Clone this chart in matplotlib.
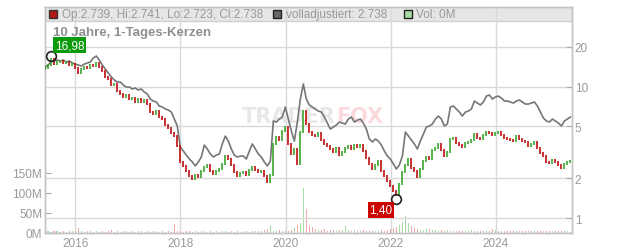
import numpy as np
import pandas as pd
import matplotlib
matplotlib.use("Agg")
import matplotlib.pyplot as plt
import matplotlib.dates as mdates

plt.rcParams["font.family"] = ["Liberation Sans", "DejaVu Sans"]

# roughly every 3 weeks, mid 2015 .. mid 2025
dates = pd.date_range("2015-06-07", "2025-06-01", periods=176)

close = [13.84, 14.58, 16.20, 14.84, 15.37, 15.64, 15.10, 15.37, 14.58, 14.84,
         13.84, 12.68, 13.60, 14.08, 13.84, 14.58, 14.33, 15.10, 14.08, 13.13,
         11.82, 11.41, 10.27, 10.46, 9.25, 8.77, 8.33, 8.62, 8.04, 8.18,
         7.63, 8.04, 7.63, 7.90, 7.36, 6.40, 6.18, 6.51, 5.87, 5.66,
         5.10, 4.84, 4.43, 4.20, 3.53, 2.67, 2.49, 2.28, 2.09, 1.98,
         2.12, 2.05, 2.28, 2.44, 2.53, 2.28, 2.16, 2.28, 2.36, 2.58,
         2.96, 2.81, 2.53, 2.24, 2.09, 2.20, 2.24, 2.12, 2.32, 2.44,
         2.32, 2.24, 2.28, 2.09, 1.88, 2.12, 3.66, 4.13, 3.92, 4.59,
         4.92, 3.66, 3.07, 3.35, 2.58, 4.51, 6.51, 5.19, 4.51, 4.28,
         4.20, 4.43, 3.92, 3.66, 3.53, 3.35, 3.18, 3.41, 3.01, 3.18,
         3.41, 3.53, 3.35, 3.59, 3.47, 3.59, 3.23, 2.86, 2.58, 2.36,
         2.53, 2.71, 2.28, 2.09, 1.91, 1.75, 1.61, 1.50, 1.81, 2.24,
         2.53, 2.81, 2.40, 2.28, 2.05, 2.36, 2.71, 2.91, 2.81, 3.29,
         3.41, 3.66, 3.29, 2.96, 3.18, 3.99, 4.06, 3.72, 3.59, 3.47,
         3.72, 3.79, 3.92, 4.35, 4.06, 3.99, 4.28, 4.51, 4.43, 4.28,
         4.43, 4.51, 4.28, 4.06, 3.99, 3.92, 3.85, 4.20, 3.99, 3.85,
         3.79, 3.53, 3.66, 3.79, 3.41, 3.12, 2.96, 2.67, 2.62, 2.76,
         2.67, 2.53, 2.40, 2.58, 2.67, 2.71]

adjusted = [14.08, 14.58, 15.64, 15.64, 15.92, 15.64, 15.92, 15.37, 15.64, 15.10,
            14.84, 14.58, 14.33, 14.84, 15.10, 15.37, 16.48, 17.07, 15.92, 14.58,
            13.60, 12.68, 11.82, 11.22, 10.83, 10.83, 10.27, 9.92, 9.92, 9.58,
            9.75, 9.41, 9.58, 9.09, 8.77, 8.04, 7.76, 7.63, 7.11, 6.99,
            6.75, 6.63, 6.40, 5.66, 5.01, 3.47, 3.23, 3.01, 2.81, 2.67,
            2.49, 2.67, 2.91, 3.59, 3.35, 3.07, 2.91, 3.01, 3.07, 3.66,
            4.20, 3.85, 3.35, 3.01, 2.91, 2.96, 2.96, 2.81, 3.23, 3.66,
            3.35, 3.07, 2.91, 2.67, 2.49, 2.71, 5.47, 5.37, 5.66, 5.87,
            6.99, 5.66, 4.59, 3.85, 5.37, 8.04, 10.46, 8.04, 7.24, 6.99,
            6.75, 6.51, 6.40, 5.87, 5.28, 4.75, 4.92, 5.10, 5.37, 5.28,
            5.19, 5.66, 5.87, 5.37, 5.56, 5.66, 5.28, 4.75, 3.99, 3.79,
            3.99, 3.85, 3.59, 3.23, 2.96, 2.81, 2.58, 2.36, 2.53, 2.96,
            4.51, 4.20, 3.92, 3.66, 3.35, 3.85, 4.35, 4.92, 5.01, 5.19,
            5.66, 5.97, 5.66, 5.01, 5.19, 6.99, 7.11, 6.75, 6.40, 5.97,
            6.40, 6.51, 6.75, 7.76, 7.49, 7.24, 7.63, 8.47, 8.62, 8.04,
            8.33, 8.47, 8.18, 7.76, 7.76, 7.63, 7.49, 7.76, 7.90, 7.63,
            7.36, 7.36, 7.49, 7.63, 7.11, 6.40, 5.76, 5.47, 5.37, 5.66,
            5.47, 5.28, 5.01, 5.47, 5.66, 5.87]

# volume in millions
volume = [5, 4, 3, 4, 5, 3, 4, 3, 4, 5,
          4, 12, 4, 3, 4, 5, 3, 4, 3, 4,
          3, 4, 7, 3, 4, 3, 5, 4, 3, 4,
          3, 5, 4, 3, 4, 3, 4, 6, 3, 4,
          3, 4, 3, 22, 6, 4, 3, 5, 4, 3,
          4, 3, 4, 5, 3, 4, 3, 4, 3, 4,
          5, 3, 4, 3, 4, 3, 4, 5, 3, 4,
          5, 4, 6, 8, 10, 20, 6, 5, 7, 6,
          5, 6, 8, 12, 20, 25, 112, 60, 18, 14,
          10, 8, 7, 9, 6, 8, 7, 6, 8, 7,
          17, 7, 6, 8, 5, 6, 7, 5, 6, 5,
          6, 5, 7, 6, 8, 10, 12, 15, 20, 28,
          43, 25, 18, 12, 9, 8, 7, 10, 9, 8,
          7, 6, 8, 6, 7, 5, 6, 5, 6, 5,
          6, 5, 7, 5, 6, 5, 6, 5, 6, 10,
          8, 6, 5, 6, 5, 4, 5, 4, 5, 4,
          5, 4, 6, 4, 5, 4, 5, 4, 4, 5,
          4, 5, 4, 5, 4, 3]

first_open = 13.60
hi_label = "16,98"
hi_value = 16.98
lo_label = "1,40"
lo_value = 1.40
header = "Op:2.739, Hi:2.741, Lo:2.723, Cl:2.738"
adj_header = "volladjustiert: 2.738"
vol_header = "Vol: 0M"
title = "10 Jahre, 1-Tages-Kerzen"

close = np.array(close)
opens = np.concatenate([[first_open], close[:-1]])
up = close >= opens

RED = "#c00d0d"
GREEN = "#3aa52c"
GRID = "#d9d9d9"
TXT = "#9a9a9a"

W, H = 632, 253
fig = plt.figure(figsize=(W / 100, H / 100), dpi=100)
L, R, T, B = 45, 572, 8, 234
ax_v = fig.add_axes([L / W, (H - B) / H, (R - L) / W, (B - T) / H])
ax_p = ax_v.twinx()

# volume (left axis)
vol_colors = np.where(up, "#a9dca4", "#f2a5a8")
ax_v.bar(dates, volume, width=11, color=vol_colors, linewidth=0, zorder=2)
ax_v.set_ylim(0, 565)
ax_v.set_yticks([0, 50, 100, 150])
ax_v.set_yticklabels(["0M", "50M", "100M", "150M"])
ax_v.set_axisbelow(True)
ax_v.grid(axis="x", color=GRID, linewidth=1)

# header band
ax_v.add_patch(plt.Rectangle((0, (B - 22) / (B - T)), 1, 1 - (B - 22) / (B - T),
                             transform=ax_v.transAxes, facecolor="#e6e6e6",
                             edgecolor="none", zorder=0.1))
ax_v.plot([0, 1], [(B - 22) / (B - T)] * 2, transform=ax_v.transAxes,
          color="#d0d0d0", lw=1, zorder=0.3)

# watermark
ax_v.text((336 - L) / (R - L), (B - 117) / (B - T), "TRADER", transform=ax_v.transAxes,
          ha="right", va="center", fontsize=15, fontweight="bold",
          family="DejaVu Sans", color="#e8e8e8", zorder=0.2)
ax_v.text((336 - L) / (R - L), (B - 117) / (B - T), "FOX", transform=ax_v.transAxes,
          ha="left", va="center", fontsize=15, fontweight="bold",
          family="DejaVu Sans", color="#fbdadd", zorder=0.2)

# price (right axis, log)
ax_p.set_yscale("log")
ax_p.set_ylim(0.769, 40.3)
ax_p.set_yticks([1, 2, 5, 10, 20])
ax_p.set_yticklabels(["1", "2", "5", "10", "20"])
ax_p.yaxis.set_minor_locator(matplotlib.ticker.NullLocator())
ax_p.grid(axis="y", color=GRID, linewidth=1, zorder=0.5)
ax_p.set_axisbelow(True)

ax_p.plot(dates, adjusted, color="#767676", lw=1.2, zorder=3)
lo = np.minimum(opens, close)
hi = np.maximum(opens, close)
ax_p.vlines(dates, lo * 0.985, hi * 1.015, colors=np.where(up, GREEN, RED),
            linewidth=1.2, zorder=4)

# high / low markers
i_hi = int(np.argmax(close))
i_lo = int(np.argmin(close))
ax_p.plot(dates[i_hi], hi_value, "o", ms=7, mfc="none", mec="#222222", mew=1.2, zorder=6)
ax_p.plot(dates[i_lo], lo_value, "o", ms=7, mfc="none", mec="#222222", mew=1.2, zorder=6)
ax_p.annotate(hi_label, (dates[i_hi], hi_value), xytext=(13, 8), textcoords="offset points",
              ha="center", va="center", color="white", fontsize=8.5, zorder=7,
              bbox=dict(boxstyle="square,pad=0.15", fc="#0a9a0a", ec="none"))
ax_p.annotate(lo_label, (dates[i_lo], lo_value), xytext=(-11, -8), textcoords="offset points",
              ha="center", va="center", color="white", fontsize=8.5, zorder=7,
              bbox=dict(boxstyle="square,pad=0.15", fc="#cc0000", ec="none"))

# x axis
ax_v.set_xlim(pd.Timestamp("2015-06-05"), pd.Timestamp("2025-06-12"))
ax_v.xaxis.set_major_locator(mdates.YearLocator(2))
ax_v.xaxis.set_major_formatter(mdates.DateFormatter("%Y"))

for ax in (ax_v, ax_p):
    for s in ax.spines.values():
        s.set_color("#c4c4c4")
        s.set_linewidth(1)
ax_v.tick_params(axis="x", length=0, colors=TXT, labelsize=8.5, pad=3)
ax_v.tick_params(axis="y", direction="in", length=4, color="#aaaaaa", labelcolor=TXT,
                 labelsize=8.5, pad=2)
ax_p.tick_params(axis="y", direction="in", length=4, color="#aaaaaa", labelcolor=TXT,
                 labelsize=8.5, pad=2)

# header texts
def px(x, y):
    return (x - L) / (R - L), (B - y) / (B - T)

for sx, fc, ec in [(53, "#b51515", "#333333"), (277, "#666666", "#222222"), (408, "#a9dca4", "#222222")]:
    ax_p.scatter(*px(sx, 15), transform=ax_p.transAxes, marker="s", s=30,
                 facecolor=fc, edgecolor=ec, linewidth=1, zorder=8, clip_on=False)
ax_p.text(*px(62, 15.5), header, transform=ax_p.transAxes, ha="left", va="center",
          color="#999999", fontsize=8.5, zorder=8)
ax_p.text(*px(286, 15.5), adj_header, transform=ax_p.transAxes, ha="left", va="center",
          color="#999999", fontsize=8.5, zorder=8)
ax_p.text(*px(416, 15.5), vol_header, transform=ax_p.transAxes, ha="left", va="center",
          color="#999999", fontsize=8.5, zorder=8)
ax_p.text(*px(53, 33), title, transform=ax_p.transAxes, ha="left", va="center",
          color="#8f8f8f", fontsize=9.5, fontweight="bold", zorder=8)

fig.savefig("out.png", dpi=100)
